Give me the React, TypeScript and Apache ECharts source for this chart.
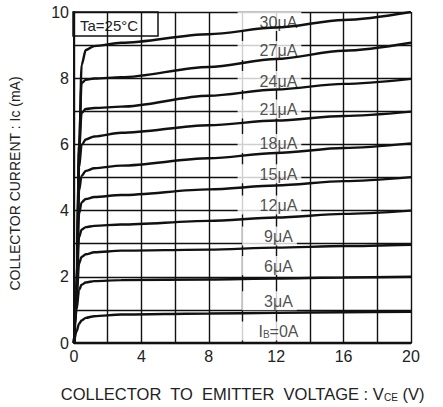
import React, { useEffect, useRef } from "react";
import * as echarts from "echarts";

const vce = [0, 0.15, 0.3, 0.45, 0.7, 1.2, 2.8, 8, 12, 16, 20];
const ic30 = [0, 1.5, 5.5, 8.4, 8.85, 8.97, 9.07, 9.33, 9.53, 9.76, 10.0];
const ic27 = [0, 1.5, 6.0, 7.85, 7.95, 7.99, 8.03, 8.34, 8.58, 8.83, 9.07];
const ic24 = [0, 1.5, 5.8, 6.95, 7.07, 7.1, 7.14, 7.47, 7.66, 7.83, 7.98];
const ic21 = [0, 1.6, 5.3, 5.98, 6.15, 6.24, 6.35, 6.58, 6.72, 6.86, 6.99];
const ic18 = [0, 1.6, 4.6, 5.05, 5.2, 5.28, 5.36, 5.58, 5.74, 5.89, 6.03];
const ic15 = [0, 1.6, 3.9, 4.25, 4.35, 4.41, 4.47, 4.64, 4.76, 4.89, 5.01];
const ic12 = [0, 1.5, 3.2, 3.42, 3.5, 3.54, 3.58, 3.69, 3.79, 3.9, 4.0];
const ic9 = [0, 1.3, 2.4, 2.6, 2.68, 2.74, 2.79, 2.82, 2.88, 2.93, 2.97];
const ic6 = [0, 1.0, 1.6, 1.76, 1.83, 1.87, 1.9, 1.92, 1.95, 1.98, 2.0];
const ic3 = [0, 0.35, 0.58, 0.68, 0.76, 0.81, 0.86, 0.89, 0.91, 0.93, 0.94];
const ic0 = [0, 0, 0, 0, 0, 0, 0, 0, 0, 0, 0];

const curves = [ic30, ic27, ic24, ic21, ic18, ic15, ic12, ic9, ic6, ic3, ic0];
const curveLabels = ["30μA", "27μA", "24μA", "21μA", "18μA", "15μA", "12μA", "9μA", "6μA", "3μA", "IB=0A"];
const labelX = 11.6;
const labelY = [9.71, 8.84, 7.93, 7.07, 6.03, 5.11, 4.17, 3.23, 2.34, 1.28, 0.36];

const FONT = "Liberation Sans, Arial, sans-serif";
const INK = "#111";
const TXT = "#222";

export default function App() {
  const ref = useRef<HTMLDivElement>(null);
  useEffect(() => {
    document.body.style.margin = "0";
    const chart = echarts.init(ref.current!, null, { renderer: "svg" });
    const lineSeries = curves.map((c, i) => ({
      type: "line",
      name: curveLabels[i],
      data: vce.map((v, j) => [v, c[j]]),
      showSymbol: false,
      smooth: 0.3,
      smoothMonotone: "x",
      lineStyle: { color: INK, width: 2.4 },
      z: 3,
      silent: true,
    }));
    const labelSeries = {
      type: "scatter",
      symbolSize: 0,
      z: 1,
      silent: true,
      data: labelY.map((y) => [labelX, y]),
      label: {
        show: true,
        position: "inside",
        formatter: (p: any) => {
          const t = curveLabels[p.dataIndex];
          if (t === "IB=0A") return "{a|I}{s|B}{a|=0A}";
          return "{a|" + t + "}";
        },
        backgroundColor: "#fff",
        padding: [2, 4, 1, 22],
        rich: {
          a: { fontSize: 16, fontFamily: FONT, color: TXT },
          s: { fontSize: 10, fontFamily: FONT, color: TXT, verticalAlign: "bottom", padding: [4, 0, 0, 0] },
        },
      },
    };
    chart.setOption({
      animation: false,
      grid: { left: 73, top: 12, right: 32, bottom: 58 },
      xAxis: {
        type: "value",
        min: 0,
        max: 20,
        interval: 2,
        axisLine: { show: true, lineStyle: { color: INK, width: 2 } },
        axisTick: { show: false },
        axisLabel: {
          formatter: (v: number) => (v % 4 === 0 ? String(v) : ""),
          color: TXT,
          fontSize: 16,
          fontFamily: FONT,
          margin: 5,
        },
        splitLine: { show: true, lineStyle: { color: INK, width: 1.4 } },
        name: "{a|COLLECTOR  TO  EMITTER  VOLTAGE : V}{s|CE}{a| (V)}",
        nameLocation: "middle",
        nameGap: 42,
        nameTextStyle: {
          rich: {
            a: { fontSize: 16.5, fontFamily: FONT, color: TXT },
            s: { fontSize: 10, fontFamily: FONT, color: TXT, verticalAlign: "bottom", padding: [4, 0, 0, 0] },
          },
        },
      },
      yAxis: {
        type: "value",
        min: 0,
        max: 10,
        interval: 1,
        axisLine: { show: true, lineStyle: { color: INK, width: 2 } },
        axisTick: { show: false },
        axisLabel: {
          formatter: (v: number) => (v % 2 === 0 ? String(v) : ""),
          color: TXT,
          fontSize: 16,
          fontFamily: FONT,
          margin: 5,
        },
        splitLine: { show: true, lineStyle: { color: INK, width: 1.4 } },
        name: "COLLECTOR CURRENT : Ic (mA)",
        nameLocation: "middle",
        nameGap: 52,
        nameTextStyle: { fontSize: 14, fontFamily: FONT, color: TXT, padding: [0, 12, 0, 0] },
      },
      graphic: [
        {
          type: "group",
          z: 10,
          children: [
            {
              type: "rect",
              shape: { x: 73, y: 12, width: 85, height: 24 },
              style: { fill: "#fff", stroke: INK, lineWidth: 1.5 },
            },
            {
              type: "text",
              x: 80,
              y: 25,
              style: { text: "Ta=25°C", fontSize: 15, fontFamily: FONT, fill: TXT, verticalAlign: "middle" },
            },
          ],
        },
      ],
      series: [labelSeries, ...lineSeries],
    });
    return () => chart.dispose();
  }, []);
  return <div ref={ref} style={{ width: 443, height: 407 }} />;
}
